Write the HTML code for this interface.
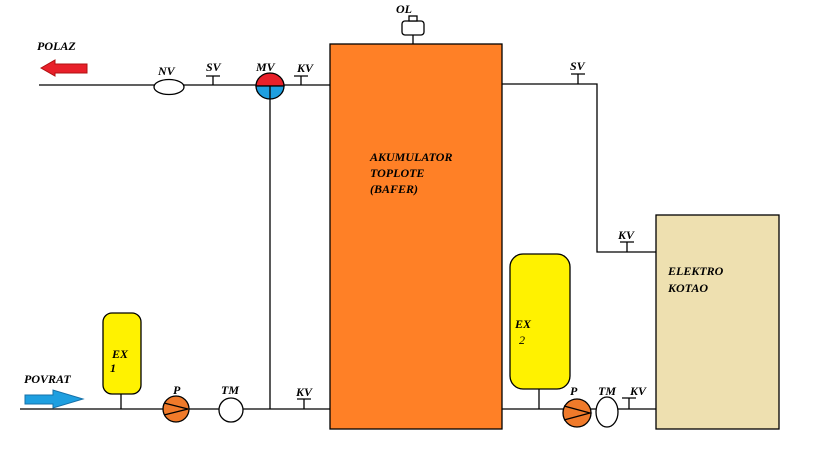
<!DOCTYPE html>
<html><head><style>body{margin:0;background:#fff}svg{display:block}text{font-family:"Liberation Serif",serif;font-style:italic;font-size:12px;fill:#000}</style></head><body>
<svg width="819" height="460" xmlns="http://www.w3.org/2000/svg" stroke="#000" stroke-width="1.3" fill="none">
<line x1="39" y1="85" x2="330" y2="85"/>
<ellipse cx="169" cy="87" rx="15" ry="7.5" fill="#fff"/>
<path d="M213 85V76M206 76H220M301 85V76M294 76H308"/>
<line x1="270" y1="85" x2="270" y2="409"/>
<path d="M256 86A14 13 0 0 1 284 86Z" fill="#E8202A"/>
<path d="M256 86A14 13 0 0 0 284 86Z" fill="#1E9FE0"/>
<line x1="270" y1="86" x2="270" y2="99"/>
<polygon points="41,68 55,60 55,64 87,64 87,73 55,73 55,76" fill="#E8202A" stroke="#b01010" stroke-width="1"/>
<rect x="330" y="44" width="172" height="385" fill="#FF8026"/>
<rect x="402" y="21" width="22" height="14" rx="3" fill="#fff"/>
<rect x="409" y="16" width="8" height="5" fill="#fff"/>
<line x1="413" y1="35" x2="413" y2="44"/>
<line x1="20" y1="409" x2="330" y2="409"/>
<rect x="103" y="313" width="38" height="81" rx="9" fill="#FFF200"/>
<line x1="121" y1="394" x2="121" y2="409"/>
<circle cx="176" cy="409" r="13" fill="#F07A2A"/>
<path d="M164 403L188 409L164 415"/>
<circle cx="231" cy="410" r="12" fill="#fff"/>
<path d="M304 409V399M297 399H311"/>
<polygon points="25,395 53,395 53,390 83,399 53,408 53,404 25,404" fill="#1E9FE0" stroke="#1570a8" stroke-width="1"/>
<path d="M502 84H597V252H656"/>
<path d="M578 84V74M571 74H585M627 252V242M620 242H634"/>
<rect x="656" y="215" width="123" height="214" fill="#EEE0B0"/>
<line x1="502" y1="409" x2="656" y2="409"/>
<rect x="510" y="254" width="60" height="135" rx="13" fill="#FFF200"/>
<line x1="539" y1="389" x2="539" y2="409"/>
<circle cx="577" cy="413" r="14" fill="#F07A2A"/>
<path d="M564 406L590 413L564 420"/>
<ellipse cx="607" cy="412" rx="11" ry="15" fill="#fff"/>
<path d="M629 409V398M622 398H636"/>
<g stroke="none" font-weight="bold">
<text x="37" y="50">POLAZ</text>
<text x="158" y="75">NV</text>
<text x="206" y="71">SV</text>
<text x="256" y="71">MV</text>
<text x="297" y="72">KV</text>
<text x="396" y="13">OL</text>
<text x="570" y="70">SV</text>
<text x="618" y="239">KV</text>
<text x="24" y="383">POVRAT</text>
<text x="112" y="358">EX</text>
<text x="110" y="372">1</text>
<text x="173" y="394">P</text>
<text x="221" y="394">TM</text>
<text x="296" y="396">KV</text>
<text x="515" y="328">EX</text>
<text x="519" y="344" font-weight="normal">2</text>
<text x="570" y="395">P</text>
<text x="598" y="395">TM</text>
<text x="630" y="395">KV</text>
<text x="370" y="161">AKUMULATOR</text>
<text x="370" y="177">TOPLOTE</text>
<text x="370" y="193">(BAFER)</text>
<text x="668" y="275">ELEKTRO</text>
<text x="668" y="292">KOTAO</text>
</g>
</svg>
</body></html>
